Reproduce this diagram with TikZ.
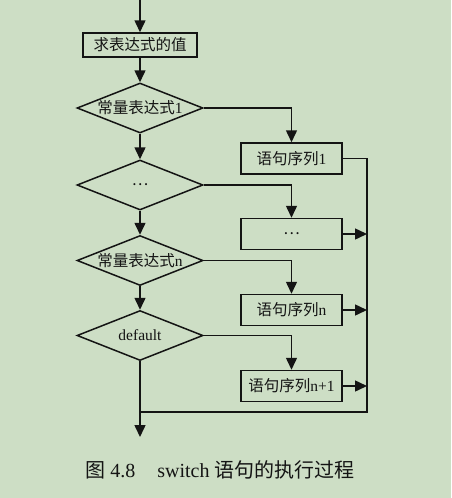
\documentclass[tikz,border=0pt]{standalone}
\usepackage{fontspec}
\setmainfont{Liberation Serif}
\newfontfamily\cjk{Noto Sans CJK SC}
\newcommand\zhtxt[1]{{\cjk #1}}
\usetikzlibrary{arrows.meta,shapes.geometric,calc}
\definecolor{bgc}{RGB}{205,222,197}
\definecolor{ink}{RGB}{20,20,20}
\begin{document}
\begin{tikzpicture}[x=1pt,y=-1pt,
  every node/.style={font=\fontsize{15.5pt}{17pt}\selectfont,text=ink},
  arr/.style={-{Triangle[length=12pt,width=11pt]}},
  ln/.style={draw=ink,line width=1.5pt},
  procbox/.style={draw=ink,line width=1.5pt,rectangle,minimum width=101pt,minimum height=31pt,inner sep=0pt},
  decide/.style={draw=ink,line width=1.5pt,diamond,minimum width=126pt,minimum height=50pt,inner sep=0pt}]
\useasboundingbox (0,0) rectangle (451,498);
\fill[bgc] (0,0) rectangle (451,498);
\coordinate (start) at (140,0);
\node[procbox,minimum width=114pt,minimum height=24pt] (b0) at (140,45) {\zhtxt{求表达式的值}};
\node[decide] (d1) at (140,108) {\makebox[0pt]{\zhtxt{常量表达式}1}};
\node[decide] (d2) at (140,185) {\makebox[0pt]{\zhtxt{…}}};
\node[decide] (d3) at (140,260.5) {\makebox[0pt]{\zhtxt{常量表达式}n}};
\node[decide] (d4) at (140,335.5) {\makebox[0pt]{default}};
\node[procbox] (b1) at (291.5,158.5) {\zhtxt{语句序列}1};
\node[procbox] (b2) at (291.5,234) {\zhtxt{…}};
\node[procbox] (b3) at (291.5,310) {\zhtxt{语句序列}n};
\node[procbox] (b4) at (291.5,386) {\zhtxt{语句序列}n+1};
\coordinate (busend) at (367,412);
\coordinate (join) at (140,412);
\coordinate (stop) at (140,437);
\draw[ln,arr] (start) -- (b0);
\draw[ln,arr] (b0) -- (d1);
\draw[ln,arr] (d1) -- (d2);
\draw[ln,arr] (d2) -- (d3);
\draw[ln,arr] (d3) -- (d4);
\draw[ln,arr] (d1.east) -| (b1.north);
\draw[ln,arr] (d2.east) -| (b2.north);
\draw[ln,arr] (d3.east) -| (b3.north);
\draw[ln,arr] (d4.east) -| (b4.north);
\draw[ln] (b1.east) -| (busend) -- (join);
\draw[ln,arr] (b2.east) -- (b2.east -| busend);
\draw[ln,arr] (b3.east) -- (b3.east -| busend);
\draw[ln,arr] (b4.east) -- (b4.east -| busend);
\draw[ln,arr] (d4.south) -- (stop);
\node[font=\fontsize{20pt}{22pt}\selectfont] (cap) at (220,470) {\zhtxt{图}~4.8\hspace{22pt}switch~\zhtxt{语句的执行过程}};
\end{tikzpicture}
\end{document}
